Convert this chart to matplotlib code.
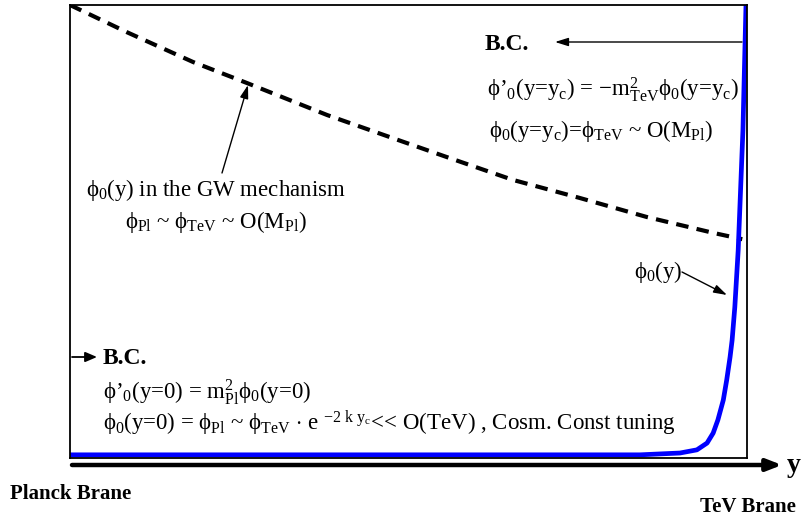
import numpy as np
import matplotlib.pyplot as plt

plt.rcParams['font.family'] = ['Liberation Serif', 'DejaVu Serif']
plt.rcParams['mathtext.fontset'] = 'custom'
plt.rcParams['mathtext.rm'] = 'Liberation Serif'
plt.rcParams['mathtext.it'] = 'Liberation Serif'
plt.rcParams['mathtext.bf'] = 'Liberation Serif:bold'

# position along the extra dimension (0 = Planck brane, 1 = TeV brane)
y_gw = [0.0, 0.084, 0.182, 0.261, 0.380, 0.477, 0.561, 0.654, 0.753, 0.852, 0.950, 0.993]
# GW profile (dashed)
phi_gw = [1.0, 0.940, 0.874, 0.828, 0.757, 0.706, 0.662, 0.614, 0.574, 0.532, 0.497, 0.483]

# warped profile (blue)
y_blue = [0.0, 0.842, 0.901, 0.926, 0.941, 0.950, 0.957, 0.965, 0.970, 0.975, 0.978, 0.982, 0.987, 0.994, 0.9985]
phi_blue = [0.007, 0.007, 0.011, 0.018, 0.033, 0.055, 0.084, 0.128, 0.172, 0.223, 0.260, 0.333, 0.459, 0.724, 1.0]

W, H = 808, 516
fig = plt.figure(figsize=(W / 100, H / 100), dpi=100)


def px(x, y):
    return (x / W, 1 - y / H)


ax = fig.add_axes([70 / W, (H - 458) / H, 677 / W, 453 / H])
ax.plot(y_gw, phi_gw, color='black', lw=3.0, dashes=(3.0, 2.0), dash_capstyle='butt')
ax.plot(y_blue, phi_blue, color='#0000ff', lw=3.4, solid_joinstyle='round')
ax.set_xlim(0, 1)
ax.set_ylim(0, 1)
ax.set_xticks([])
ax.set_yticks([])
for s in ax.spines.values():
    s.set_linewidth(1.3)

fs = 16.5
bc = 17
ff = 'figure fraction'

# bottom y axis arrow
ax.annotate('', xy=px(782, 465), xytext=px(72, 465), xycoords=ff, textcoords=ff,
            arrowprops=dict(arrowstyle='-|>,head_length=0.9,head_width=0.35', lw=3.2, color='black',
                            shrinkA=0, shrinkB=0))
fig.text(*px(787, 465), 'y', fontsize=20, fontweight='bold', va='center', ha='left')
fig.text(*px(10, 494), 'Planck Brane', fontsize=15, fontweight='bold', va='center', ha='left')
fig.text(*px(700, 507), 'TeV Brane', fontsize=15, fontweight='bold', va='center', ha='left')

# TeV brane boundary conditions
ax.annotate('', xy=px(555, 42), xytext=px(742, 42), xycoords=ff, textcoords=ff,
            arrowprops=dict(arrowstyle='-|>,head_length=0.8,head_width=0.25', lw=1.0, color='black',
                            shrinkA=0, shrinkB=0))
fig.text(*px(485, 44), 'B.C.', fontsize=bc, fontweight='bold', va='center', ha='left')
fig.text(*px(487, 90), r"$ϕ’_0$(y=y$_c$) = $-$m$^2_{\mathrm{TeV}}$$ϕ_0$(y=y$_c$)", fontsize=fs,
         va='center', ha='left')
fig.text(*px(489, 131), r"$ϕ_0$(y=y$_c$)=$ϕ_{\mathrm{TeV}}$ ~ O(M$_{\mathrm{Pl}}$)", fontsize=fs,
         va='center', ha='left')

# GW mechanism label
ax.annotate('', xy=px(248, 85), xytext=px(222, 173), xycoords=ff, textcoords=ff,
            arrowprops=dict(arrowstyle='-|>,head_length=0.8,head_width=0.25', lw=1.0, color='black',
                            shrinkA=0, shrinkB=0))
fig.text(*px(216, 190), r"$ϕ_0$(y) in the GW mechanism", fontsize=fs, va='center', ha='center')
fig.text(*px(216, 222), r"$ϕ_{\mathrm{Pl}}$ ~ $ϕ_{\mathrm{TeV}}$ ~ O(M$_{\mathrm{Pl}}$)", fontsize=fs,
         va='center', ha='center')

# phi_0(y) label
ax.annotate('', xy=px(727, 295), xytext=px(682, 272), xycoords=ff, textcoords=ff,
            arrowprops=dict(arrowstyle='-|>,head_length=0.8,head_width=0.25', lw=1.0, color='black',
                            shrinkA=0, shrinkB=0))
fig.text(*px(634, 272), r"$ϕ_0$(y)", fontsize=fs, va='center', ha='left')

# Planck brane boundary conditions
ax.annotate('', xy=px(97, 357), xytext=px(72, 357), xycoords=ff, textcoords=ff,
            arrowprops=dict(arrowstyle='-|>,head_length=0.7,head_width=0.3', lw=1.3, color='black',
                            shrinkA=0, shrinkB=0))
fig.text(*px(103, 358), 'B.C.', fontsize=bc, fontweight='bold', va='center', ha='left')
fig.text(*px(103, 392), r"$ϕ’_0$(y=0) = m$^2_{\mathrm{Pl}}$$ϕ_0$(y=0)", fontsize=fs,
         va='center', ha='left')
fig.text(*px(103, 423),
         r"$ϕ_0$(y=0) = $ϕ_{\mathrm{Pl}}$ ~ $ϕ_{\mathrm{TeV}}$ $\cdot$ e $^{-2\ k\ y_c}$<< O(TeV) , Cosm. Const tuning",
         fontsize=fs, va='center', ha='left')

fig.savefig('out.png', dpi=100)
